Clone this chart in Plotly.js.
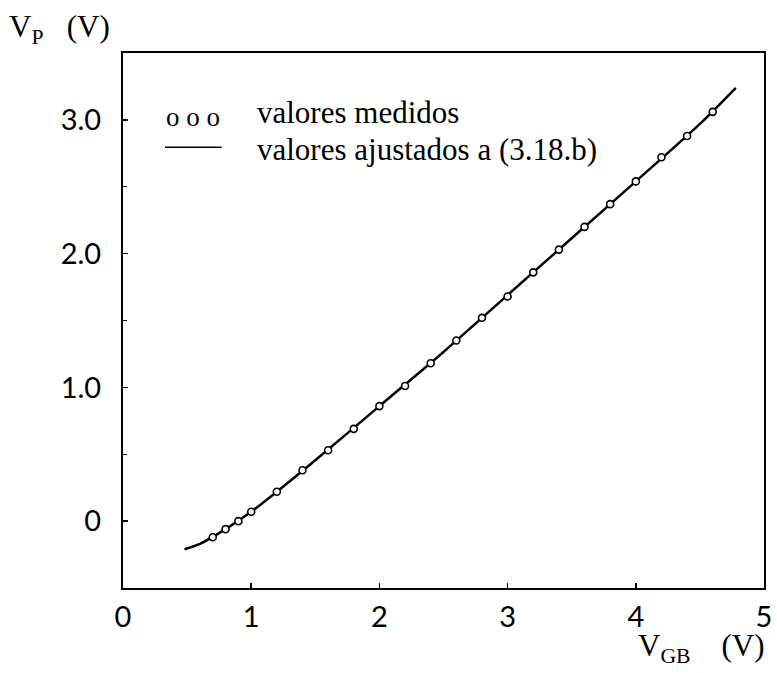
<!DOCTYPE html>
<html>
<head>
<meta charset="utf-8">
<script src="https://cdn.plot.ly/plotly-3.0.1.min.js"></script>
<style>
  html, body { margin: 0; padding: 0; background: #fff; }
  #chart { width: 777px; height: 673px; }
</style>
</head>
<body>
<div id="chart"></div>
<script>
// Measured pinch-off voltage V_P versus gate-bulk voltage V_GB
const measuredVGB = [0.7, 0.8, 0.9, 1.0, 1.2, 1.4, 1.6, 1.8, 2.0, 2.2, 2.4, 2.6, 2.8, 3.0, 3.2, 3.4, 3.6, 3.8, 4.0, 4.2, 4.4, 4.6];
const measuredVP  = [-0.12, -0.06, 0.0, 0.07, 0.22, 0.38, 0.53, 0.69, 0.86, 1.01, 1.18, 1.35, 1.52, 1.68, 1.86, 2.03, 2.20, 2.37, 2.54, 2.72, 2.88, 3.06];

// Curve fitted with expression (3.18.b)
const fitVGB = [0.48, 0.6, 0.8, 1.0, 1.2, 1.5, 2.0, 2.5, 3.0, 3.5, 4.0, 4.5, 4.78];
const fitVP  = [-0.21, -0.17, -0.06, 0.07, 0.22, 0.455, 0.86, 1.265, 1.69, 2.115, 2.54, 2.97, 3.24];

const xTicks = [0, 1, 2, 3, 4, 5];
const xTickText = ['0', '1', '2', '3', '4', '5'];
const yTicks = [0, 1, 2, 3];
const yTickText = ['0', '1.0', '2.0', '3.0'];

const serif = '"Liberation Serif", "Times New Roman", serif';
const tickFont = { family: 'Lato, sans-serif', size: 29, color: '#000' };

const traces = [
  {
    x: fitVGB, y: fitVP,
    type: 'scatter', mode: 'lines',
    line: { color: '#000', width: 2.5, shape: 'spline', smoothing: 0.8 },
    hoverinfo: 'skip'
  },
  {
    x: measuredVGB, y: measuredVP,
    type: 'scatter', mode: 'markers',
    marker: { symbol: 'circle', size: 7, color: '#fff', line: { color: '#000', width: 1.6 } }
  }
];

const layout = {
  width: 777, height: 673,
  margin: { l: 123, r: 13, t: 53, b: 85 },
  paper_bgcolor: '#fff', plot_bgcolor: '#fff',
  showlegend: false,
  xaxis: {
    range: [0, 5], tickvals: xTicks, ticktext: xTickText,
    ticks: 'inside', ticklen: 5, tickwidth: 1.5, tickcolor: '#000',
    showline: true, linecolor: '#000', linewidth: 2, mirror: true,
    showgrid: false, zeroline: false,
    tickfont: tickFont, ticklabelstandoff: 2
  },
  yaxis: {
    range: [-0.5, 3.5], tickvals: yTicks, ticktext: yTickText,
    ticks: 'inside', ticklen: 5, tickwidth: 1.5, tickcolor: '#000',
    minor: { dtick: 0.5, tick0: 0, ticks: 'inside', ticklen: 4, tickcolor: '#000', tickwidth: 1.2 },
    showline: true, linecolor: '#000', linewidth: 2, mirror: true,
    showgrid: false, zeroline: false,
    tickfont: tickFont, ticklabelstandoff: 14
  },
  annotations: [
    { text: 'V<sub>P</sub>   (V)', xref: 'paper', yref: 'paper', x: -0.181, y: 1.045,
      xanchor: 'left', yanchor: 'middle', showarrow: false,
      font: { family: serif, size: 31, color: '#000' } },
    { text: 'V<sub>GB</sub>    (V)', xref: 'paper', yref: 'paper', x: 1.005, y: -0.112,
      xanchor: 'right', yanchor: 'middle', showarrow: false,
      font: { family: serif, size: 31, color: '#000' } },
    { text: 'o o o', xref: 'paper', yref: 'paper', x: 0.064, y: 0.88,
      xanchor: 'left', yanchor: 'middle', showarrow: false,
      font: { family: serif, size: 27, color: '#000' } },
    { text: 'valores medidos', xref: 'paper', yref: 'paper', x: 0.2055, y: 0.889,
      xanchor: 'left', yanchor: 'middle', showarrow: false,
      font: { family: serif, size: 31, color: '#000' } },
    { text: 'valores ajustados a (3.18.b)', xref: 'paper', yref: 'paper', x: 0.2055, y: 0.819,
      xanchor: 'left', yanchor: 'middle', showarrow: false,
      font: { family: serif, size: 31, color: '#000' } }
  ],
  shapes: [
    { type: 'line', xref: 'paper', yref: 'paper', x0: 0.0655, x1: 0.154, y0: 0.824, y1: 0.824,
      line: { color: '#000', width: 1.5 } }
  ]
};

Plotly.newPlot('chart', traces, layout, { staticPlot: true, displayModeBar: false });
</script>
</body>
</html>
